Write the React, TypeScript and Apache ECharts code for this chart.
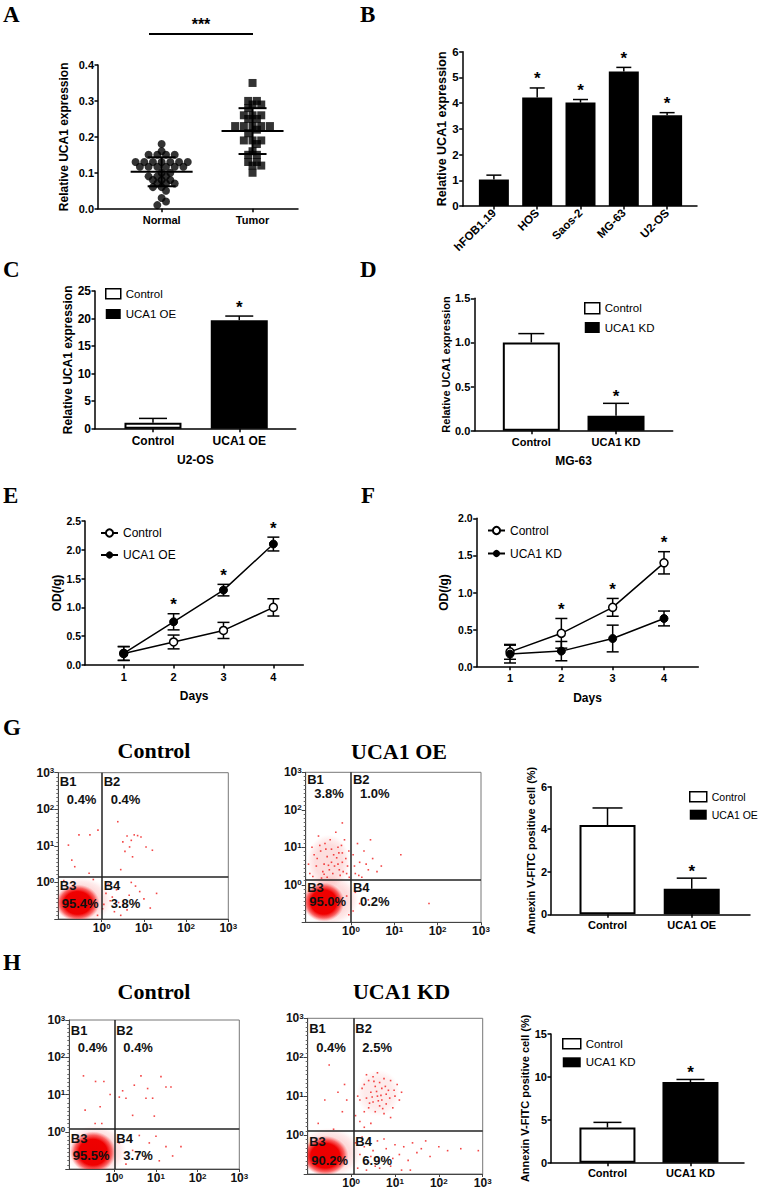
import React, { useEffect, useRef } from 'react';
import * as echarts from 'echarts';

// ================= DATA =================
// Panel A (individual samples)
const aGroups = ['Normal', 'Tumor'];
const aNormal = [0.18, 0.16, 0.15, 0.15, 0.15, 0.15, 0.13, 0.13, 0.13, 0.13, 0.13, 0.13, 0.13,
  0.117, 0.117, 0.117, 0.117, 0.117, 0.117, 0.1, 0.1, 0.09, 0.09, 0.09, 0.08, 0.08, 0.08,
  0.07, 0.07, 0.07, 0.06, 0.06, 0.05, 0.03, 0.02, 0.01];
const aTumor = [0.35, 0.3, 0.3, 0.29, 0.29, 0.28, 0.26, 0.26, 0.26, 0.25, 0.25, 0.23, 0.23, 0.23,
  0.23, 0.23, 0.22, 0.21, 0.19, 0.19, 0.19, 0.18, 0.16, 0.15, 0.15, 0.13, 0.13, 0.12, 0.12, 0.1];

// Panel B
const bLines = ['hFOB1.19', 'HOS', 'Saos-2', 'MG-63', 'U2-OS'];
const bMeans = [1.03, 4.22, 4.02, 5.23, 3.53];
const bErr = [0.17, 0.37, 0.12, 0.16, 0.1];
const bSig = [0, 1, 1, 1, 1];

// Panel C
const cGroups = ['Control', 'UCA1 OE'];
const cMeans = [1.1, 19.7];
const cErr = [0.77, 0.75];
const cSig = [0, 1];

// Panel D
const dGroups = ['Control', 'UCA1 KD'];
const dMeans = [1.0, 0.17];
const dErr = [0.1, 0.14];
const dSig = [0, 1];

// Panels E / F
const days = [1, 2, 3, 4];
const eControl = [0.2, 0.4, 0.6, 1.0];
const eControlErr = [0.12, 0.12, 0.14, 0.15];
const eOE = [0.2, 0.75, 1.3, 2.1];
const eOEErr = [0.12, 0.14, 0.1, 0.12];
const eSig = [0, 1, 1, 1];
const fControl = [0.2, 0.45, 0.8, 1.4];
const fControlErr = [0.1, 0.2, 0.12, 0.15];
const fKD = [0.17, 0.21, 0.38, 0.65];
const fKDErr = [0.12, 0.13, 0.18, 0.1];
const fSig = [0, 1, 1, 1];

// Panels G / H bar charts
const gBarGroups = ['Control', 'UCA1 OE'];
const gBarMeans = [4.2, 1.2];
const gBarErr = [0.8, 0.5];
const gBarSig = [0, 1];
const hBarGroups = ['Control', 'UCA1 KD'];
const hBarMeans = [4.1, 9.4];
const hBarErr = [0.6, 0.3];
const hBarSig = [0, 1];

// Flow cytometry plots (log10 units)
const quadNames = ['B1', 'B2', 'B3', 'B4'];
const flowDecades = [0, 1, 2, 3];
const gCtrlPct = ['0.4%', '0.4%', '95.4%', '3.8%'];
const gOEPct = ['3.8%', '1.0%', '95.0%', '0.2%'];
const hCtrlPct = ['0.4%', '0.4%', '95.5%', '3.7%'];
const hKDPct = ['0.4%', '2.5%', '90.2%', '6.9%'];
// gates [x threshold, y threshold]
const gCtrlGate = [0, 0.15];
const gOEGate = [0, 0.13];
const hCtrlGate = [0, 0.09];
const hKDGate = [0.05, 0.1];
// dense clouds: [cx, cy, rx, ry, intensity]
const gCtrlClouds = [[-0.57, -0.56, 0.52, 0.5, 1], [-0.5, -0.5, 0.74, 0.64, 0.14]];
const gOEClouds = [[-0.63, -0.46, 0.48, 0.52, 1], [-0.5, -0.4, 0.68, 0.68, 0.14], [-0.52, 0.62, 0.5, 0.72, 0.13]];
const hCtrlClouds = [[-0.51, -0.55, 0.55, 0.56, 1], [-0.45, -0.5, 0.74, 0.68, 0.14]];
const hKDClouds = [[-0.59, -0.53, 0.53, 0.51, 1], [-0.5, -0.45, 0.74, 0.64, 0.14], [0.62, 1.08, 0.5, 0.6, 0.08]];
// sparse events
const gCtrlEvents = [[-0.54, 1.3], [-0.79, 1.02], [-0.64, 0.43], [-0.71, 0.61], [-0.09, 1.43], [-0.28, 1.3],
  [0.38, 1.66], [0.6, 1.27], [0.77, 1.3], [0.66, 0.97], [0.93, 1.24], [1.05, 0.97], [1.2, 0.88], [0.73, 0.7],
  [0.5, 1.11], [0.85, 1.28], [0.55, 0.85], [-0.3, 0.25], [0.45, 0.35], [0.7, 1.15], [0.1, -0.3], [0.2, -0.5],
  [0.35, -0.2], [0.5, -0.6], [0.65, -0.35], [0.8, -0.1], [1.0, -0.45], [1.15, -0.7], [0.3, -0.8], [0.15, -0.05],
  [0.45, -0.9], [0.9, -0.25], [0.6, -0.75], [0.25, -0.4], [0.05, -0.6], [1.3, -0.3], [0.4, -0.55], [0.7, 0.0],
  [-0.9, 0.05], [-0.2, 0.08], [-0.1, -0.9], [0.02, -0.72]];
const gOEEvents = [[-0.95, 0.3], [-0.8, 0.5], [-0.7, 0.9], [-0.6, 1.1], [-0.5, 0.4], [-0.4, 0.8], [-0.3, 1.0],
  [-0.2, 0.6], [-0.1, 0.3], [-0.05, 0.9], [-0.35, 1.4], [-0.55, 0.2], [-0.85, 0.8], [-0.25, 0.25], [-0.15, 1.2],
  [-0.45, 0.6], [-0.65, 0.35], [-0.75, 1.3], [-0.2, 1.65], [-0.3, 0.55], [-0.9, 1.0], [-0.55, 0.75], [-0.2, 0.85],
  [-0.98, 0.55], [-0.88, 0.22], [-0.78, 0.7], [-0.68, 0.18], [-0.62, 0.55], [-0.58, 0.95], [-0.48, 1.2],
  [-0.42, 0.3], [-0.38, 0.5], [-0.33, 0.72], [-0.27, 0.4], [-0.22, 1.05], [-0.12, 0.7], [-0.08, 0.5],
  [-0.04, 0.2], [-0.72, 1.05], [-0.52, 0.52], [-0.28, 0.85], [-0.18, 0.35], [-0.62, 0.28], [-0.45, 0.95],
  [0.1, 0.3], [0.2, 0.6], [0.3, 0.9], [0.15, 1.1], [0.4, 0.4], [0.5, 0.7], [0.25, 0.2], [0.6, 0.35], [0.05, 0.8],
  [0.35, 0.55], [1.15, 0.8], [0.7, 0.5], [0.45, 1.2], [0.08, 0.5], [0.18, 0.25], [0.1, -0.2], [0.2, -0.5],
  [0.3, -0.1], [0.05, -0.7], [1.8, -0.5], [0.4, -0.4], [-0.1, -0.3], [-0.05, -0.8]];
const hCtrlEvents = [[-0.74, 1.5], [-0.45, 1.35], [-0.25, 1.35], [-0.7, 0.58], [-0.34, 0.67], [-0.46, 0.22],
  [-0.3, 0.22], [-0.1, 1.0], [0.2, 1.1], [0.28, 0.9], [0.44, 0.44], [0.64, 1.5], [0.8, 1.16], [0.92, 0.9],
  [1.12, 1.48], [1.24, 1.2], [1.36, 1.2], [0.96, 0.42], [0.76, 0.9], [0.48, 1.25], [0.12, 0.93], [0.44, -0.5],
  [0.84, -0.3], [1.24, -0.4], [1.6, -0.4], [1.08, -0.78], [0.6, -0.1], [0.28, -0.87], [1.0, -0.12],
  [1.4, -0.65], [0.12, -0.3], [0.76, -0.7], [0.4, -0.2]];
const hKDEvents = [[0.1, 0.5], [0.2, 0.9], [0.3, 1.3], [0.4, 0.7], [0.5, 1.5], [0.6, 1.0], [0.7, 1.2], [0.8, 0.8],
  [0.9, 1.4], [1.0, 1.0], [0.55, 0.6], [0.45, 1.1], [0.65, 1.35], [0.75, 0.55], [0.35, 0.95], [0.85, 1.15],
  [0.25, 1.2], [0.95, 0.7], [1.05, 1.3], [0.5, 0.85], [0.6, 1.6], [0.7, 0.9], [0.4, 1.4], [0.8, 1.05], [0.3, 0.6],
  [0.15, 1.0], [0.9, 0.45], [0.65, 0.75], [0.55, 1.25], [1.1, 0.9], [0.2, 0.35], [0.45, 0.3], [0.35, 1.55],
  [0.75, 1.45], [1.15, 1.1], [0.3, 0.2], [0.58, 1.12], [0.68, 1.02], [0.48, 0.98], [0.78, 1.25], [0.62, 0.88],
  [0.52, 1.38], [0.72, 0.68], [0.42, 0.82], [0.88, 0.95], [0.98, 1.15],
  [-0.5, 1.8], [-0.3, 1.1], [-0.6, 0.9], [-0.2, 0.6], [-0.75, 0.3],
  [-0.4, 0.15], [-0.15, 1.3], [-0.1, 0.9], [0.1, -0.2], [0.2, -0.5], [0.3, -0.3], [0.4, -0.7], [0.5, -0.4],
  [0.6, -0.15], [0.7, -0.6], [0.8, -0.35], [0.9, -0.8], [1.0, -0.25], [1.1, -0.5], [1.2, -0.3], [1.3, -0.65],
  [1.4, -0.2], [1.5, -0.45], [1.6, -0.35], [1.8, -0.55], [2.0, -0.3], [2.2, -0.4], [2.5, -0.35], [2.9, -0.4],
  [0.15, -0.85], [0.35, -0.9], [0.55, -0.8], [0.75, -0.1], [0.95, -0.6], [1.15, -0.9], [0.25, -0.05],
  [0.45, -0.55], [0.65, -0.85], [1.7, -0.15], [1.35, -0.9]];

// ================= STYLE / LAYOUT =================
const FONT = '"Liberation Sans", Arial, Helvetica, sans-serif';
const SERIF = '"Liberation Serif", "Times New Roman", Times, serif';

const grids = [
  { left: 98, top: 65, width: 200, height: 143.7 },      // 0 A
  { left: 462.7, top: 51.7, width: 234.3, height: 154.3 }, // 1 B
  { left: 95, top: 291, width: 200.7, height: 137.7 },   // 2 C
  { left: 474.3, top: 298.3, width: 198.4, height: 132.4 }, // 3 D
  { left: 85, top: 521, width: 218.3, height: 144 },     // 4 E
  { left: 476.7, top: 518.3, width: 221.6, height: 148.4 }, // 5 F
  { left: 58.3, top: 772.7, width: 170, height: 146.3 }, // 6 G ctrl flow
  { left: 305.7, top: 772.3, width: 175.3, height: 150 }, // 7 G OE flow
  { left: 551, top: 786.7, width: 199, height: 127.6 },  // 8 G bar
  { left: 69.3, top: 1020, width: 170, height: 149 },    // 9 H ctrl flow
  { left: 307.7, top: 1018.3, width: 175, height: 155.7 }, // 10 H KD flow
  { left: 551, top: 1034, width: 193, height: 128.7 },   // 11 H bar
];
const aDotPx = 8.7; // dot spacing within a row in panel A

const nearestLabel = (ticks: number[], labels: string[]) => (v: number) => {
  let bi = 0;
  ticks.forEach((t, i) => { if (Math.abs(t - v) < Math.abs(ticks[bi] - v)) bi = i; });
  return labels[bi];
};

function gpY(i: number, min: number, max: number, interval: number, dec: number, name: string, gap: number, fs = 11, nfs = 12) {
  return {
    type: 'value', gridIndex: i, min, max, interval,
    axisLine: { show: true, onZero: false, lineStyle: { color: '#000', width: 1.5 } },
    axisTick: { show: true, length: 3.5, lineStyle: { color: '#000', width: 1.5 } },
    splitLine: { show: false },
    axisLabel: { fontFamily: FONT, fontWeight: 'bold', fontSize: fs, color: '#000', margin: 4, formatter: (v: number) => v.toFixed(dec) },
    name, nameLocation: 'middle', nameGap: gap, nameRotate: 90,
    nameTextStyle: { fontFamily: FONT, fontWeight: 'bold', fontSize: nfs, color: '#000' },
  };
}
function gpX(i: number, min: number, max: number, ticks: number[], labels: string[], opts: any = {}) {
  return {
    type: 'value', gridIndex: i, min, max,
    axisLine: { show: true, onZero: false, lineStyle: { color: '#000', width: 1.5 } },
    axisTick: { show: true, customValues: ticks, length: 3.5, lineStyle: { color: '#000', width: 1.5 } },
    splitLine: { show: false },
    axisLabel: {
      customValues: ticks, fontFamily: FONT, fontWeight: 'bold', fontSize: opts.fs || 11, color: '#000',
      margin: opts.margin || 5, rotate: opts.rotate || 0, formatter: nearestLabel(ticks, labels),
    },
    name: opts.name || '', nameLocation: 'middle', nameGap: opts.gap || 20,
    nameTextStyle: { fontFamily: FONT, fontWeight: 'bold', fontSize: opts.nfs || 12, color: '#000' },
  };
}
const supRich = {
  b: { fontFamily: FONT, fontWeight: 'bold', fontSize: 12, color: '#111' },
  s: { fontFamily: FONT, fontWeight: 'bold', fontSize: 8, color: '#111', verticalAlign: 'top' },
};
function flowX(i: number, xmin: number) {
  return {
    type: 'value', gridIndex: i, min: xmin, max: 3,
    axisLine: { show: true, onZero: false, lineStyle: { color: '#444', width: 1 } },
    axisTick: { show: true, customValues: flowDecades, length: 3, lineStyle: { color: '#444' } },
    splitLine: { show: false },
    axisLabel: { customValues: flowDecades, margin: 3, formatter: (v: number) => `{b|10}{s|${Math.round(v)}}`, rich: supRich },
  };
}
function flowY(i: number) {
  return {
    type: 'value', gridIndex: i, min: -1, max: 3, interval: 1,
    axisLine: { show: true, onZero: false, lineStyle: { color: '#444', width: 1 } },
    axisTick: { show: true, length: 4, lineStyle: { color: '#444' } },
    minorTick: { show: true, splitNumber: 9, length: 2, lineStyle: { color: '#666' } },
    splitLine: { show: false },
    axisLabel: { customValues: flowDecades, margin: 4, formatter: (v: number) => `{b|10}{s|${Math.round(v)}}`, rich: supRich },
  };
}

function errRender(capHalf: number, lw: number, starGap: number) {
  return (params: any, api: any) => {
    const x = api.value(0), m = api.value(1), up = api.value(2), dn = api.value(3), sig = api.value(4);
    const t = api.coord([x, m + up]);
    const b = api.coord([x, m - dn]);
    const st = { stroke: '#000', lineWidth: lw };
    const ch: any[] = [
      { type: 'line', shape: { x1: t[0], y1: t[1], x2: b[0], y2: b[1] }, style: st },
      { type: 'line', shape: { x1: t[0] - capHalf, y1: t[1], x2: t[0] + capHalf, y2: t[1] }, style: st },
    ];
    if (dn > 0) ch.push({ type: 'line', shape: { x1: b[0] - capHalf, y1: b[1], x2: b[0] + capHalf, y2: b[1] }, style: st });
    if (sig) ch.push({ type: 'text', style: { text: '*', x: t[0], y: t[1] - starGap, align: 'center', verticalAlign: 'middle', font: `bold 17px ${FONT}`, fill: '#000' } });
    return { type: 'group', children: ch };
  };
}
function errSeries(i: number, xs: number[], means: number[], errs: number[], sig: number[], twoSided: boolean, capHalf: number, starGap: number) {
  return {
    type: 'custom', xAxisIndex: i, yAxisIndex: i, z: 5, silent: true,
    encode: { x: 0, y: 1 },
    data: xs.map((x, k) => [x, means[k], errs[k], twoSided ? errs[k] : 0, sig[k] || 0]),
    renderItem: errRender(capHalf, 1.5, starGap),
  };
}
function barPair(i: number, prefix: string, groups: string[], means: number[], width: number) {
  return groups.map((g, k) => ({
    type: 'bar', name: `${prefix}|${g}`, xAxisIndex: i, yAxisIndex: i, barWidth: width, barGap: '-100%',
    data: [[k, means[k]]],
    itemStyle: k === 0 ? { color: '#fff', borderColor: '#000', borderWidth: 2 } : { color: '#000' },
  }));
}
function lineSeries(i: number, name: string, vals: number[], open: boolean) {
  return {
    type: 'line', name, xAxisIndex: i, yAxisIndex: i, z: 6,
    data: days.map((d, k) => [d, vals[k]]),
    symbol: 'circle', symbolSize: 8,
    lineStyle: { color: '#000', width: 1.5 },
    itemStyle: open ? { color: '#fff', borderColor: '#000', borderWidth: 1.5 } : { color: '#000', borderColor: '#000' },
  };
}
// scatter-dot layout: equal values form a centred row; a row is shifted by half a step
// when that collides less with the rows already placed (GraphPad-like interleaving)
function swarm(values: number[], center: number, xPxPerUnit: number, yPxPerUnit: number, step: number) {
  const rows = new Map<number, number[]>();
  [...values].sort((a, b) => b - a).forEach((v) => {
    const k = Math.round(v * 1000);
    if (!rows.has(k)) rows.set(k, []);
    rows.get(k)!.push(v);
  });
  const placed: number[][] = [];
  const out: number[][] = [];
  rows.forEach((vs) => {
    const y = vs[0] * yPxPerUnit;
    const base = vs.map((_, i) => (i - (vs.length - 1) / 2) * step);
    let bestShift = 0, bestHits = Infinity;
    [0, step / 2, -step / 2].forEach((s) => {
      let hits = 0;
      base.forEach((b) => placed.forEach(([px, py]) => { const d = Math.hypot(px - (b + s), py - y); if (d < 7) hits += 7 - d; }));
      if (hits < bestHits - 1e-6) { bestHits = hits; bestShift = s; }
    });
    base.forEach((b, i) => {
      placed.push([b + bestShift, y]);
      out.push([center + (b + bestShift) / xPxPerUnit, vs[i]]);
    });
  });
  return out;
}
const mean = (a: number[]) => a.reduce((s, v) => s + v, 0) / a.length;
const sd = (a: number[]) => { const m = mean(a); return Math.sqrt(a.reduce((s, v) => s + (v - m) ** 2, 0) / (a.length - 1)); };

function cloudSeries(i: number, clouds: number[][]) {
  return {
    type: 'custom', xAxisIndex: i, yAxisIndex: i, z: 2, silent: true, encode: { x: 0, y: 1 },
    data: clouds,
    renderItem: (params: any, api: any) => {
      const cs = params.coordSys;
      const c = api.coord([api.value(0), api.value(1)]);
      const s = api.size([api.value(2), api.value(3)]);
      const a = api.value(4);
      return {
        type: 'ellipse', shape: { cx: c[0], cy: c[1], rx: s[0], ry: s[1] },
        style: {
          fill: new echarts.graphic.RadialGradient(0.5, 0.5, 0.5, [
            { offset: 0, color: `rgba(235,0,0,${a})` },
            { offset: 0.62, color: `rgba(240,0,0,${a})` },
            { offset: 0.82, color: `rgba(248,20,20,${a * 0.6})` },
            { offset: 1, color: 'rgba(255,80,80,0)' },
          ]),
        },
        clipPath: { type: 'rect', shape: { x: cs.x, y: cs.y, width: cs.width, height: cs.height } },
      };
    },
  };
}
function eventSeries(i: number, pts: number[][], gate: number[]) {
  return {
    type: 'scatter', xAxisIndex: i, yAxisIndex: i, z: 3, silent: true,
    data: pts, symbol: 'rect', symbolSize: 1.6, itemStyle: { color: '#f01818' },
    markLine: {
      silent: true, symbol: 'none', label: { show: false },
      lineStyle: { color: '#222', width: 1.5, type: 'solid' },
      data: [{ xAxis: gate[0] }, { yAxis: gate[1] }],
    },
  };
}
function quadTextSeries(i: number, gate: number[], pcts: string[], labDy: number, pctDy: number) {
  return {
    type: 'custom', xAxisIndex: i, yAxisIndex: i, z: 10, silent: true, encode: { x: 0, y: 1 },
    data: [gate],
    renderItem: (params: any, api: any) => {
      const cs = params.coordSys;
      const p = api.coord([api.value(0), api.value(1)]);
      const L = cs.x, T = cs.y, V = p[0], H = p[1];
      const mk = (text: string, x: number, y: number) => ({ type: 'text', style: { text, x, y, align: 'left', verticalAlign: 'middle', font: `bold 13px ${FONT}`, fill: '#111' } });
      return {
        type: 'group', children: [
          mk(quadNames[0], L + 1.5, T + labDy), mk(pcts[0], L + 8.5, T + pctDy),
          mk(quadNames[1], V + 2, T + labDy), mk(pcts[1], V + 9, T + pctDy),
          mk(quadNames[2], L + 1.5, H + labDy), mk(pcts[2], L + 3.5, H + pctDy),
          mk(quadNames[3], V + 2, H + labDy), mk(pcts[3], V + 9, H + pctDy),
        ],
      };
    },
  };
}
function barLegend(prefix: string, groups: string[], left: number, top: number, w: number, h: number, gap: number, fs = 11.5) {
  return {
    orient: 'vertical', left, top, padding: 0, itemWidth: w, itemHeight: h, itemGap: gap, selectedMode: false,
    formatter: (n: string) => n.split('|')[1],
    textStyle: { fontFamily: FONT, fontSize: fs, color: '#000' },
    data: groups.map((g, k) => ({
      name: `${prefix}|${g}`, icon: 'rect',
      itemStyle: k === 0 ? { color: '#fff', borderColor: '#000', borderWidth: 1.5 } : { color: '#000', borderWidth: 0 },
    })),
  };
}
function lineLegend(names: string[], left: number, top: number, gap: number) {
  return {
    orient: 'vertical', left, top, padding: 0, itemWidth: 17, itemHeight: 9, itemGap: gap, selectedMode: false,
    formatter: (n: string) => n.split('|')[1],
    textStyle: { fontFamily: FONT, fontSize: 12, color: '#000' },
    data: names,
  };
}

const panelLetters = [
  ['A', 3, 14], ['B', 360, 14], ['C', 3, 269], ['D', 360, 269],
  ['E', 3, 495.5], ['F', 361, 495.5], ['G', 3, 727], ['H', 3, 962.5],
];
const flowTitles = [['Control', 154, 750], ['UCA1 OE', 399, 751.5], ['Control', 154, 991.5], ['UCA1 KD', 401.5, 991.5]];

export default function App() {
  const ref = useRef<HTMLDivElement>(null);
  useEffect(() => {
    if (!ref.current) return;
    const chart = echarts.init(ref.current, null, { renderer: 'svg' });
    const aX = [0.7, 1.7];
    const aXPx = grids[0].width / 2.2;
    const aYPx = grids[0].height / 0.4;
    const aStats = [[aX[0], mean(aNormal), sd(aNormal)], [aX[1], mean(aTumor), sd(aTumor)]];

    const graphics: any[] = [];
    panelLetters.forEach(([t, x, y]) => graphics.push({ type: 'text', x: x as number, y: y as number, style: { text: t as string, font: `bold 23px ${SERIF}`, fill: '#000', align: 'left', verticalAlign: 'middle' } }));
    flowTitles.forEach(([t, x, y]) => graphics.push({ type: 'text', x: x as number, y: y as number, style: { text: t as string, font: `bold 22px ${SERIF}`, fill: '#000', align: 'center', verticalAlign: 'middle' } }));
    graphics.push({ type: 'line', shape: { x1: 149, y1: 34, x2: 253, y2: 34 }, style: { stroke: '#000', lineWidth: 2 } });
    graphics.push({ type: 'text', x: 201, y: 24, style: { text: '***', font: `bold 16px ${FONT}`, fill: '#000', align: 'center', verticalAlign: 'middle' } });

    const option: any = {
      animation: false,
      backgroundColor: '#fff',
      grid: grids.map((g, i) => ({ ...g, containLabel: false, show: [6, 7, 9, 10].includes(i), borderColor: '#777', borderWidth: 1 })),
      xAxis: [
        gpX(0, 0, 2.2, aX, aGroups, { margin: 6 }),
        gpX(1, -0.72, 4.69, [0, 1, 2, 3, 4], bLines, { rotate: 45, fs: 11.5, margin: 5 }),
        gpX(2, -0.672, 1.654, [0, 1], cGroups, { name: 'U2-OS', gap: 25, fs: 12, margin: 6 }),
        gpX(3, -0.673, 1.669, [0, 1], dGroups, { name: 'MG-63', gap: 24, fs: 11, nfs: 12, margin: 6 }),
        gpX(4, 0.224, 4.6, days, days.map(String), { name: 'Days', gap: 25, fs: 11, margin: 6 }),
        gpX(5, 0.351, 4.668, days, days.map(String), { name: 'Days', gap: 25, fs: 11, margin: 6 }),
        flowX(6, -1.03),
        flowX(7, -1.045),
        gpX(8, -0.671, 1.692, [0, 1], gBarGroups, { fs: 11, margin: 5 }),
        flowX(9, -1.08),
        flowX(10, -0.99),
        gpX(11, -0.68, 1.645, [0, 1], hBarGroups, { fs: 11, margin: 5 }),
      ],
      yAxis: [
        gpY(0, 0, 0.4, 0.1, 1, 'Relative UCA1 expression', 28, 11, 12),
        gpY(1, 0, 6, 1, 0, 'Relative UCA1 expression', 14, 11.5, 12.5),
        gpY(2, 0, 25, 5, 0, 'Relative UCA1 expression', 19, 12, 12),
        gpY(3, 0, 1.5, 0.5, 1, 'Relative UCA1 expression', 22, 11, 11),
        gpY(4, 0, 2.5, 0.5, 1, 'OD(/g)', 19, 10.5, 12),
        gpY(5, 0, 2, 0.5, 1, 'OD(/g)', 27, 10.5, 12),
        flowY(6),
        flowY(7),
        gpY(8, 0, 6, 2, 0, 'Annexin V-FITC positive cell (%)', 12, 11, 11),
        flowY(9),
        flowY(10),
        gpY(11, 0, 15, 5, 0, 'Annexin V-FITC positive cell (%)', 12, 11, 11),
      ],
      legend: [
        barLegend('C', cGroups, 105, 287.7, 15, 10, 8.3),
        barLegend('D', dGroups, 584, 302, 15, 11, 7),
        lineLegend(['E|Control', 'E|UCA1 OE'], 100, 527, 10),
        lineLegend(['F|Control', 'F|UCA1 KD'], 487, 524.5, 11),
        barLegend('G', gBarGroups, 689, 791, 17, 10, 6.7, 10.5),
        barLegend('H', hBarGroups, 562, 1037.7, 18, 10, 6.6),
      ],
      graphic: graphics,
      series: [
        // A
        { type: 'scatter', xAxisIndex: 0, yAxisIndex: 0, symbol: 'circle', symbolSize: 8, itemStyle: { color: '#000' }, data: swarm(aNormal, aX[0], aXPx, aYPx, aDotPx) },
        { type: 'scatter', xAxisIndex: 0, yAxisIndex: 0, symbol: 'rect', symbolSize: 8, itemStyle: { color: '#000' }, data: swarm(aTumor, aX[1], aXPx, aYPx, aDotPx) },
        {
          type: 'custom', xAxisIndex: 0, yAxisIndex: 0, z: 5, silent: true, encode: { x: 0, y: 1 }, data: aStats,
          renderItem: (params: any, api: any) => {
            const x = api.value(0), m = api.value(1), s = api.value(2);
            const c = api.coord([x, m]), t = api.coord([x, m + s]), b = api.coord([x, m - s]);
            const st = { stroke: '#000', lineWidth: 2 };
            return {
              type: 'group', children: [
                { type: 'line', shape: { x1: c[0] - 31, y1: c[1], x2: c[0] + 31, y2: c[1] }, style: st },
                { type: 'line', shape: { x1: t[0], y1: t[1], x2: b[0], y2: b[1] }, style: st },
                { type: 'line', shape: { x1: t[0] - 14, y1: t[1], x2: t[0] + 14, y2: t[1] }, style: st },
                { type: 'line', shape: { x1: b[0] - 14, y1: b[1], x2: b[0] + 14, y2: b[1] }, style: st },
              ],
            };
          },
        },
        // B
        { type: 'bar', xAxisIndex: 1, yAxisIndex: 1, barWidth: 30, itemStyle: { color: '#000' }, data: bMeans.map((v, k) => [k, v]) },
        errSeries(1, bLines.map((_, k) => k), bMeans, bErr, bSig, false, 7.5, 9),
        // C
        ...barPair(2, 'C', cGroups, cMeans, 57),
        errSeries(2, [0, 1], cMeans, cErr, cSig, false, 14, 9),
        // D
        ...barPair(3, 'D', dGroups, dMeans, 57),
        errSeries(3, [0, 1], dMeans, dErr, dSig, false, 13, 7),
        // E
        lineSeries(4, 'E|Control', eControl, true),
        lineSeries(4, 'E|UCA1 OE', eOE, false),
        errSeries(4, days, eControl, eControlErr, [0, 0, 0, 0], true, 6, 9),
        errSeries(4, days, eOE, eOEErr, eSig, true, 6, 9),
        // F
        lineSeries(5, 'F|Control', fControl, true),
        lineSeries(5, 'F|UCA1 KD', fKD, false),
        errSeries(5, days, fControl, fControlErr, fSig, true, 6, 9),
        errSeries(5, days, fKD, fKDErr, [0, 0, 0, 0], true, 6, 9),
        // G flow
        cloudSeries(6, gCtrlClouds), eventSeries(6, gCtrlEvents, gCtrlGate), quadTextSeries(6, gCtrlGate, gCtrlPct, 9, 27),
        cloudSeries(7, gOEClouds), eventSeries(7, gOEEvents, gOEGate), quadTextSeries(7, gOEGate, gOEPct, 7.5, 21.5),
        // G bar
        ...barPair(8, 'G', gBarGroups, gBarMeans, 56),
        errSeries(8, [0, 1], gBarMeans, gBarErr, gBarSig, false, 15, 7),
        // H flow
        cloudSeries(9, hCtrlClouds), eventSeries(9, hCtrlEvents, hCtrlGate), quadTextSeries(9, hCtrlGate, hCtrlPct, 10, 27.5),
        cloudSeries(10, hKDClouds), eventSeries(10, hKDEvents, hKDGate), quadTextSeries(10, hKDGate, hKDPct, 10, 29),
        // H bar
        ...barPair(11, 'H', hBarGroups, hBarMeans, 56),
        errSeries(11, [0, 1], hBarMeans, hBarErr, hBarSig, false, 14, 7),
      ],
    };
    chart.setOption(option);
    return () => chart.dispose();
  }, []);
  return <div ref={ref} style={{ position: 'absolute', left: 0, top: 0, width: 760, height: 1190, background: '#fff' }} />;
}
